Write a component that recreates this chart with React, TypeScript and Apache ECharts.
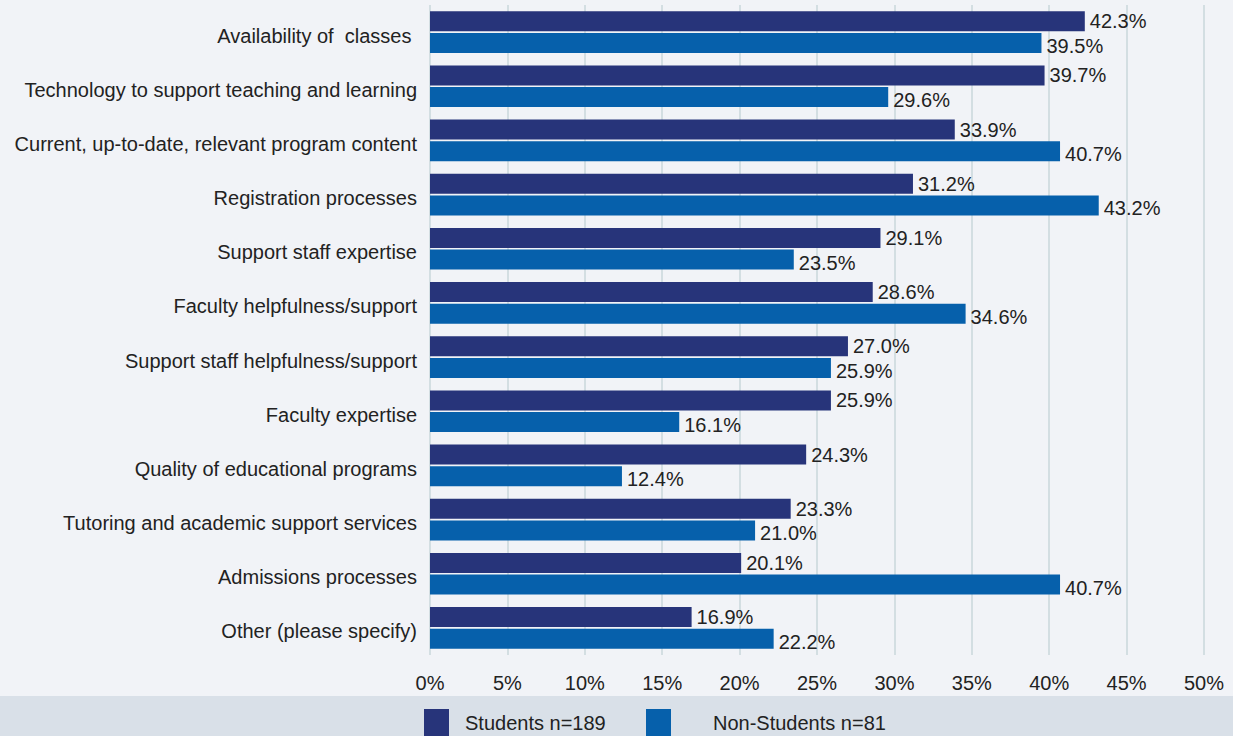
import React, { useEffect, useRef } from "react";
import * as echarts from "echarts";

const categories = [
  "Availability of  classes ",
  "Technology to support teaching and learning",
  "Current, up-to-date, relevant program content",
  "Registration processes",
  "Support staff expertise",
  "Faculty helpfulness/support",
  "Support staff helpfulness/support",
  "Faculty expertise",
  "Quality of educational programs",
  "Tutoring and academic support services",
  "Admissions processes",
  "Other (please specify)",
];
const students = [42.3, 39.7, 33.9, 31.2, 29.1, 28.6, 27.0, 25.9, 24.3, 23.3, 20.1, 16.9];
const nonStudents = [39.5, 29.6, 40.7, 43.2, 23.5, 34.6, 25.9, 16.1, 12.4, 21.0, 40.7, 22.2];
const seriesNames = ["Students n=189", "Non-Students n=81"];
const colors = ["#27347a", "#0660ab"];

const FONT = "Liberation Sans";
const FS = 20;

export default function App() {
  const ref = useRef<HTMLDivElement>(null);
  useEffect(() => {
    document.body.style.margin = "0";
    const chart = echarts.init(ref.current!, null, { renderer: "svg" });
    const label = (dy: number) => ({
      show: true,
      position: "right" as const,
      distance: 5,
      offset: [0, dy],
      color: "#222",
      fontSize: FS,
      fontFamily: FONT,
      formatter: (p: any) => p.value.toFixed(1) + "%",
    });
    chart.setOption({
      animation: false,
      backgroundColor: "#f1f3f7",
      textStyle: { fontFamily: FONT },
      graphic: [
        {
          type: "rect",
          left: 0,
          top: 696,
          shape: { width: 1233, height: 40 },
          style: { fill: "#d9e0e8" },
          z: -1,
        },
      ],
      grid: { left: 430, top: 5, width: 774, height: 650, containLabel: false },
      xAxis: {
        type: "value",
        min: 0,
        max: 50,
        interval: 5,
        axisLabel: {
          formatter: "{value}%",
          color: "#222",
          fontSize: FS,
          fontFamily: FONT,
          margin: 18,
        },
        axisLine: { show: false },
        axisTick: { show: false },
        splitLine: { show: true, lineStyle: { color: "#c8d7db", width: 1.5 } },
      },
      yAxis: {
        type: "category",
        data: categories,
        inverse: true,
        axisLabel: {
          color: "#222",
          fontSize: FS,
          fontFamily: FONT,
          margin: 13,
          formatter: (v: string) => "{a|" + v + "}",
          rich: {
            a: {
              color: "#222",
              fontSize: FS,
              fontFamily: FONT,
              padding: [7, 0, 0, 0],
            },
          },
        },
        axisLine: { show: false },
        axisTick: { show: false },
      },
      legend: [
        {
          data: [seriesNames[0]],
          left: 424,
          top: 709,
          padding: 0,
          itemWidth: 25,
          itemHeight: 27,
          icon: "rect",
          textStyle: { color: "#222", fontSize: FS, fontFamily: FONT, padding: [0, 0, 0, 11] },
        },
        {
          data: [seriesNames[1]],
          left: 646,
          top: 709,
          padding: 0,
          itemWidth: 25,
          itemHeight: 27,
          icon: "rect",
          textStyle: { color: "#222", fontSize: FS, fontFamily: FONT, padding: [0, 0, 0, 37] },
        },
      ],
      series: [
        {
          name: seriesNames[0],
          type: "bar",
          data: students,
          barWidth: 20,
          barGap: "8%",
          itemStyle: { color: colors[0] },
          label: label(0),
        },
        {
          name: seriesNames[1],
          type: "bar",
          data: nonStudents,
          barWidth: 20,
          itemStyle: { color: colors[1] },
          label: label(3),
        },
      ],
    });
    return () => chart.dispose();
  }, []);
  return <div ref={ref} style={{ width: 1233, height: 736 }} />;
}
